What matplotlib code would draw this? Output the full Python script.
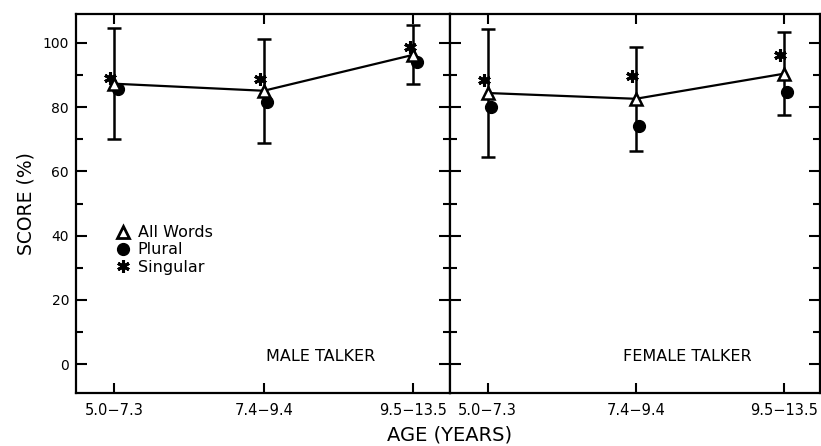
import matplotlib
matplotlib.use("Agg")
import matplotlib.pyplot as plt
from matplotlib.lines import Line2D
import numpy as np

plt.rcParams['font.family'] = ['DejaVu Sans']

age_groups = ["5.0\u22127.3", "7.4\u22129.4", "9.5\u221213.5"]
yticks = [0, 20, 40, 60, 80, 100]

male_all = [87.3, 85.1, 96.3]
male_sd = [17.3, 16.2, 9.2]
male_plural = [85.7, 81.7, 94.1]
male_singular = [89.1, 88.8, 98.8]

female_all = [84.4, 82.6, 90.4]
female_sd = [20.0, 16.2, 13.0]
female_plural = [80.1, 74.2, 84.8]
female_singular = [88.5, 89.8, 96.3]

panels = [
    ("MALE TALKER", male_all, male_sd, male_plural, male_singular),
    ("FEMALE TALKER", female_all, female_sd, female_plural, female_singular),
]

W, H = 821, 446
fig = plt.figure(figsize=(W / 100, H / 100), dpi=100)

bottom = 1 - 393 / H
height = (393 - 14) / H
axes_px = [(76, 450), (450, 820)]
text_x = [1.38, 1.35]

x = np.arange(len(age_groups))
for i, (title, allw, sd, plural, singular) in enumerate(panels):
    x0, x1 = axes_px[i]
    ax = fig.add_axes([x0 / W, bottom, (x1 - x0) / W, height])
    ax.errorbar(x, allw, yerr=sd, fmt='none', ecolor='black', elinewidth=1.8,
                capsize=5, capthick=1.8, zorder=2)
    ax.plot(x, allw, color='black', lw=1.6, zorder=3)
    ax.plot(x + 0.025, plural, 'o', color='black', ms=8.5, zorder=4)
    ax.plot(x - 0.025, singular, linestyle='none', marker=(6, 2, 0), color='black',
            ms=9, mew=2.2, zorder=4)
    ax.plot(x, allw, '^', mfc='white', mec='black', mew=1.8, ms=8.5, zorder=5)

    ax.set_xlim(-0.255, 2.245)
    ax.set_ylim(-9, 109)
    ax.set_xticks(x)
    ax.set_xticklabels(age_groups, fontsize=10.5)
    ax.set_yticks(yticks)
    ax.set_yticks([10, 30, 50, 70, 90], minor=True)
    ax.tick_params(axis='x', which='both', direction='in', top=True, bottom=True,
                   length=7, width=1.5, pad=7)
    ax.tick_params(axis='y', which='major', direction='in', left=True, right=True,
                   length=8, width=1.5, pad=5, labelsize=10)
    ax.tick_params(axis='y', which='minor', direction='in', left=True, right=True,
                   length=5, width=1.5)
    if i == 1:
        ax.tick_params(axis='y', which='both', labelleft=False)
    for s in ax.spines.values():
        s.set_linewidth(1.6)
    ax.text(text_x[i], 2.5, title, fontsize=11.5, ha='center', va='center')

    if i == 0:
        ax.set_ylabel("SCORE (%)", fontsize=13.5, labelpad=5)
        handles = [
            Line2D([], [], linestyle='none', marker='^', mfc='white', mec='black',
                   mew=2, ms=8),
            Line2D([], [], linestyle='none', marker='o', color='black', ms=8.5),
            Line2D([], [], linestyle='none', marker=(6, 2, 0), color='black',
                   ms=9, mew=2.2),
        ]
        ax.legend(handles, ["All Words", "Plural", "Singular"], loc='upper left',
                  bbox_to_anchor=(0.109, 0.443), frameon=False, fontsize=11.5,
                  handlelength=0.8, handletextpad=0.5, labelspacing=0.15,
                  borderpad=0, borderaxespad=0)

fig.text(450 / W, 1 - 435 / H, "AGE (YEARS)", fontsize=14, ha='center', va='center')

fig.savefig("out.png", dpi=100)
